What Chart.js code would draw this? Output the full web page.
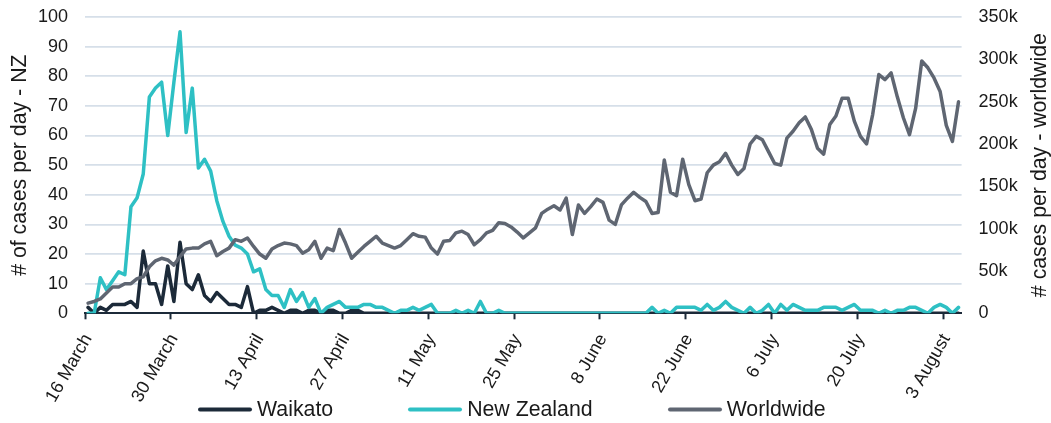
<!DOCTYPE html>
<html>
<head>
<meta charset="utf-8">
<title>COVID-19 cases per day</title>
<script src="https://cdn.jsdelivr.net/npm/chart.js@4.4.1/dist/chart.umd.min.js"></script>
<style>
  html, body { margin: 0; padding: 0; background: #ffffff; }
  #wrap { position: relative; width: 1051px; height: 423px; }
  #legend {
    position: absolute; left: 198px; top: 409px; transform: translateY(-50%);
    display: flex; gap: 75px; white-space: nowrap;
    font: 21.3px 'Liberation Sans', Arial, sans-serif; color: #1a1a1a;
  }
  .item { display: flex; align-items: center; }
  .swatch { width: 54px; height: 4px; border-radius: 2px; margin-right: 5px; }
</style>
</head>
<body>
<div id="wrap">
  <canvas id="chart"></canvas>
  <div id="legend"></div>
</div>
<script>
// Daily series, 16 March to 5 August
const firstDay = [2020, 2, 16];
const dayCount = 143;
const monthNames = ['January', 'February', 'March', 'April', 'May', 'June',
  'July', 'August', 'September', 'October', 'November', 'December'];

const waikato = [
  2, 0, 2, 1, 3, 3, 3, 4, 2, 21, 10, 10, 3, 16, 4, 24, 10, 8, 13, 6,
  4, 7, 5, 3, 3, 2, 9, 0, 1, 1, 2, 1, 0, 1, 1, 0, 1, 1, 0, 1,
  1, 0, 0, 1, 1, 0, 0, 0, 0, 0, 0, 0, 0, 0, 0, 0, 0, 0, 0, 0,
  0, 0, 0, 0, 0, 0, 0, 0, 0, 0, 0, 0, 0, 0, 0, 0, 0, 0, 0, 0,
  0, 0, 0, 0, 0, 0, 0, 0, 0, 0, 0, 0, 0, 0, 0, 0, 0, 0, 0, 0,
  0, 0, 0, 0, 0, 0, 0, 0, 0, 0, 0, 0, 0, 0, 0, 0, 0, 0, 0, 0,
  0, 0, 0, 0, 0, 0, 0, 0, 0, 0, 0, 0, 0, 0, 0, 0, 0, 0, 0, 0,
  0, 0, 0
];

const newZealand = [
  0, 0, 12, 8, 11, 14, 13, 36, 39, 47, 73, 76, 78, 60, 78, 95, 61, 76, 49, 52,
  48, 38, 31, 26, 23, 22, 20, 14, 15, 8, 6, 6, 2, 8, 4, 7, 2, 5, 0, 2,
  3, 4, 2, 2, 2, 3, 3, 2, 2, 1, 0, 1, 1, 2, 1, 2, 3, 0, 0, 0,
  1, 0, 1, 0, 4, 0, 0, 1, 0, 0, 0, 0, 0, 0, 0, 0, 0, 0, 0, 0,
  0, 0, 0, 0, 0, 0, 0, 0, 0, 0, 0, 0, 2, 0, 1, 0, 2, 2, 2, 2,
  1, 3, 1, 2, 4, 2, 1, 0, 2, 0, 1, 3, 0, 3, 1, 3, 2, 1, 1, 1,
  2, 2, 2, 1, 2, 3, 1, 1, 1, 0, 1, 0, 1, 1, 2, 2, 1, 0, 2, 3,
  2, 0, 2
];

const worldwide = [
  12000, 14000, 17000, 24000, 31000, 31000, 35000, 35000, 41000, 43000,
  55000, 62000, 65000, 63000, 57000, 67000, 76000, 77000, 77000, 82000,
  85000, 68000, 73000, 77000, 87000, 85000, 89000, 79000, 70000, 65000,
  76000, 80000, 83000, 82000, 80000, 71000, 75000, 85000, 65000, 77000,
  74000, 99000, 83000, 65000, 72000, 79000, 85000, 91000, 83000, 80000,
  77000, 80000, 87000, 94000, 91000, 90000, 77000, 70000, 85000, 86000,
  95000, 97000, 93000, 81000, 87000, 95000, 98000, 107000, 106000, 102000,
  96000, 89000, 95000, 101000, 118000, 123000, 127000, 122000, 136000, 93000,
  128000, 118000, 126000, 135000, 131000, 110000, 105000, 128000, 136000, 143000,
  137000, 132000, 118000, 119000, 181000, 143000, 139000, 182000, 152000, 133000,
  135000, 166000, 175000, 179000, 189000, 175000, 164000, 171000, 200000, 209000,
  205000, 191000, 177000, 175000, 207000, 215000, 225000, 232000, 217000, 195000,
  188000, 223000, 233000, 254000, 254000, 227000, 209000, 200000, 235000, 282000,
  276000, 284000, 256000, 231000, 211000, 242000, 298000, 290000, 278000, 262000,
  222000, 203000, 250000
];

const labelEvery = 14;
const leftTicks = { min: 0, max: 100, step: 10 };
const rightTicks = { min: 0, max: 350000, step: 50000 };

const dayLabels = [];
for (let i = 0; i < dayCount; i++) {
  const d = new Date(firstDay[0], firstDay[1], firstDay[2] + i);
  dayLabels.push(d.getDate() + ' ' + monthNames[d.getMonth()]);
}

const FONT = "'Liberation Sans', Arial, sans-serif";
const TEXT = '#1a1a1a';
const AXIS = '#1c2a39';
const GRID = '#d6dfe9';
const colours = { waikato: '#1c2a39', nz: '#2ec0c4', world: '#5f6672' };

// worldwide axis title reads bottom-to-top, like the NZ one
const rightTitle = {
  id: 'rightTitle',
  afterDraw(chart) {
    const { ctx, chartArea } = chart;
    const s = chart.scales.y2;
    ctx.save();
    ctx.translate(s.right - 11, (chartArea.top + chartArea.bottom) / 2);
    ctx.rotate(-Math.PI / 2);
    ctx.font = '21.3px ' + FONT;
    ctx.fillStyle = TEXT;
    ctx.textAlign = 'center';
    ctx.textBaseline = 'middle';
    ctx.fillText('# cases per day - worldwide', 0, 0);
    ctx.restore();
  }
};

const chart = new Chart(document.getElementById('chart'), {
  type: 'line',
  data: {
    labels: dayLabels,
    datasets: [
      { label: 'Waikato', data: waikato, yAxisID: 'y', borderColor: colours.waikato,
        backgroundColor: colours.waikato, order: 2 },
      { label: 'New Zealand', data: newZealand, yAxisID: 'y', borderColor: colours.nz,
        backgroundColor: colours.nz, order: 1 },
      { label: 'Worldwide', data: worldwide, yAxisID: 'y2', borderColor: colours.world,
        backgroundColor: colours.world, order: 0 }
    ]
  },
  options: {
    responsive: true,
    maintainAspectRatio: false,
    animation: false,
    events: [],
    layout: { padding: { top: 17, left: 0, right: 0, bottom: 0 } },
    elements: {
      line: { borderWidth: 3.5, tension: 0, borderJoinStyle: 'round', borderCapStyle: 'round' },
      point: { radius: 0 }
    },
    plugins: { legend: { display: false }, tooltip: { enabled: false } },
    scales: {
      x: {
        type: 'category',
        offset: true,
        grid: {
          offset: true,
          drawOnChartArea: false,
          drawTicks: true,
          tickLength: 6,
          tickWidth: 2,
          color: ctx => (ctx.index % labelEvery === 0 ? AXIS : 'rgba(0,0,0,0)')
        },
        border: { display: true, color: AXIS, width: 2 },
        ticks: {
          autoSkip: false,
          minRotation: 60,
          maxRotation: 60,
          padding: 11,
          color: TEXT,
          font: { family: FONT, size: 18 },
          callback: function (value, index) {
            return index % labelEvery === 0 ? this.getLabelForValue(value) : '';
          }
        },
        afterFit: s => { s.height = 109.7; s.paddingLeft = 0; s.paddingRight = 0; }
      },
      y: {
        position: 'left',
        min: leftTicks.min, max: leftTicks.max,
        grid: { color: GRID, lineWidth: 1.8, drawTicks: false },
        border: { display: false },
        ticks: {
          stepSize: leftTicks.step, padding: 17, color: TEXT,
          font: { family: FONT, size: 18 }
        },
        title: {
          display: true, text: '# of cases per day - NZ', color: TEXT,
          font: { family: FONT, size: 21.3 }, padding: { top: 7, bottom: 0 }
        },
        afterFit: s => { s.width = 85; s.paddingTop = 0; s.paddingBottom = 0; }
      },
      y2: {
        position: 'right',
        min: rightTicks.min, max: rightTicks.max,
        grid: { display: false, drawTicks: false },
        border: { display: false },
        ticks: {
          stepSize: rightTicks.step, padding: 17, color: TEXT,
          font: { family: FONT, size: 18 },
          callback: v => (v === 0 ? '0' : (v / 1000) + 'k')
        },
        afterFit: s => { s.width = 89.4; s.paddingTop = 0; s.paddingBottom = 0; }
      }
    }
  },
  plugins: [rightTitle]
});

// legend row under the axis
const legend = document.getElementById('legend');
chart.data.datasets.forEach(ds => {
  const item = document.createElement('div');
  item.className = 'item';
  const sw = document.createElement('span');
  sw.className = 'swatch';
  sw.style.background = ds.borderColor;
  const txt = document.createElement('span');
  txt.textContent = ds.label;
  item.appendChild(sw);
  item.appendChild(txt);
  legend.appendChild(item);
});
</script>
</body>
</html>
